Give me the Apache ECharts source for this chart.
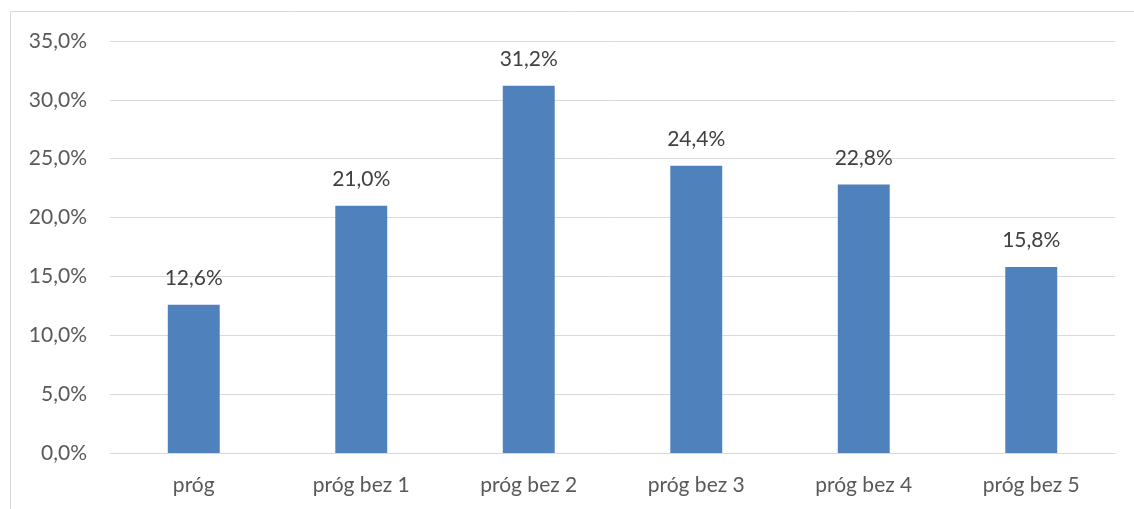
<!DOCTYPE html>
<html><head><meta charset="utf-8">
<script src="https://cdn.jsdelivr.net/npm/echarts@6/dist/echarts.min.js"></script>
<style>html,body{margin:0;padding:0;background:#fff}#c{width:1134px;height:509px}</style>
</head><body><div id="c"></div>
<script>
const categories = ["próg", "próg bez 1", "próg bez 2", "próg bez 3", "próg bez 4", "próg bez 5"];
const values = [12.6, 21.0, 31.2, 24.4, 22.8, 15.8];
const yTicks = [0, 5, 10, 15, 20, 25, 30, 35];

const fmt = v => v.toFixed(1).replace('.', ',') + '%';
const chart = echarts.init(document.getElementById('c'));
chart.setOption({
  animation: false,
  textStyle: { fontFamily: 'Lato, "Open Sans", sans-serif' },
  graphic: [{ type: 'rect', shape: { x: 10.5, y: 11.5, width: 1140, height: 520 }, style: { fill: 'none', stroke: '#d9d9d9', lineWidth: 1 }, silent: true }],
  grid: { left: 110, right: 19, top: 41, bottom: 56 },
  xAxis: {
    type: 'category', data: categories,
    axisLine: { lineStyle: { color: '#d9d9d9' } },
    axisTick: { show: false },
    axisLabel: { color: '#595959', fontSize: 21, margin: 22 }
  },
  yAxis: {
    type: 'value', min: yTicks[0], max: yTicks[yTicks.length - 1], interval: 5,
    axisLine: { show: false }, axisTick: { show: false },
    splitLine: { lineStyle: { color: '#d9d9d9' } },
    axisLabel: { color: '#595959', fontSize: 21, margin: 23, formatter: v => fmt(v) }
  },
  series: [{
    type: 'bar', data: values, barWidth: '31%',
    itemStyle: { color: '#4F81BD' },
    label: { show: true, position: 'top', distance: 16, color: '#404040', fontSize: 21, formatter: p => fmt(p.value) }
  }]
});
</script></body></html>
